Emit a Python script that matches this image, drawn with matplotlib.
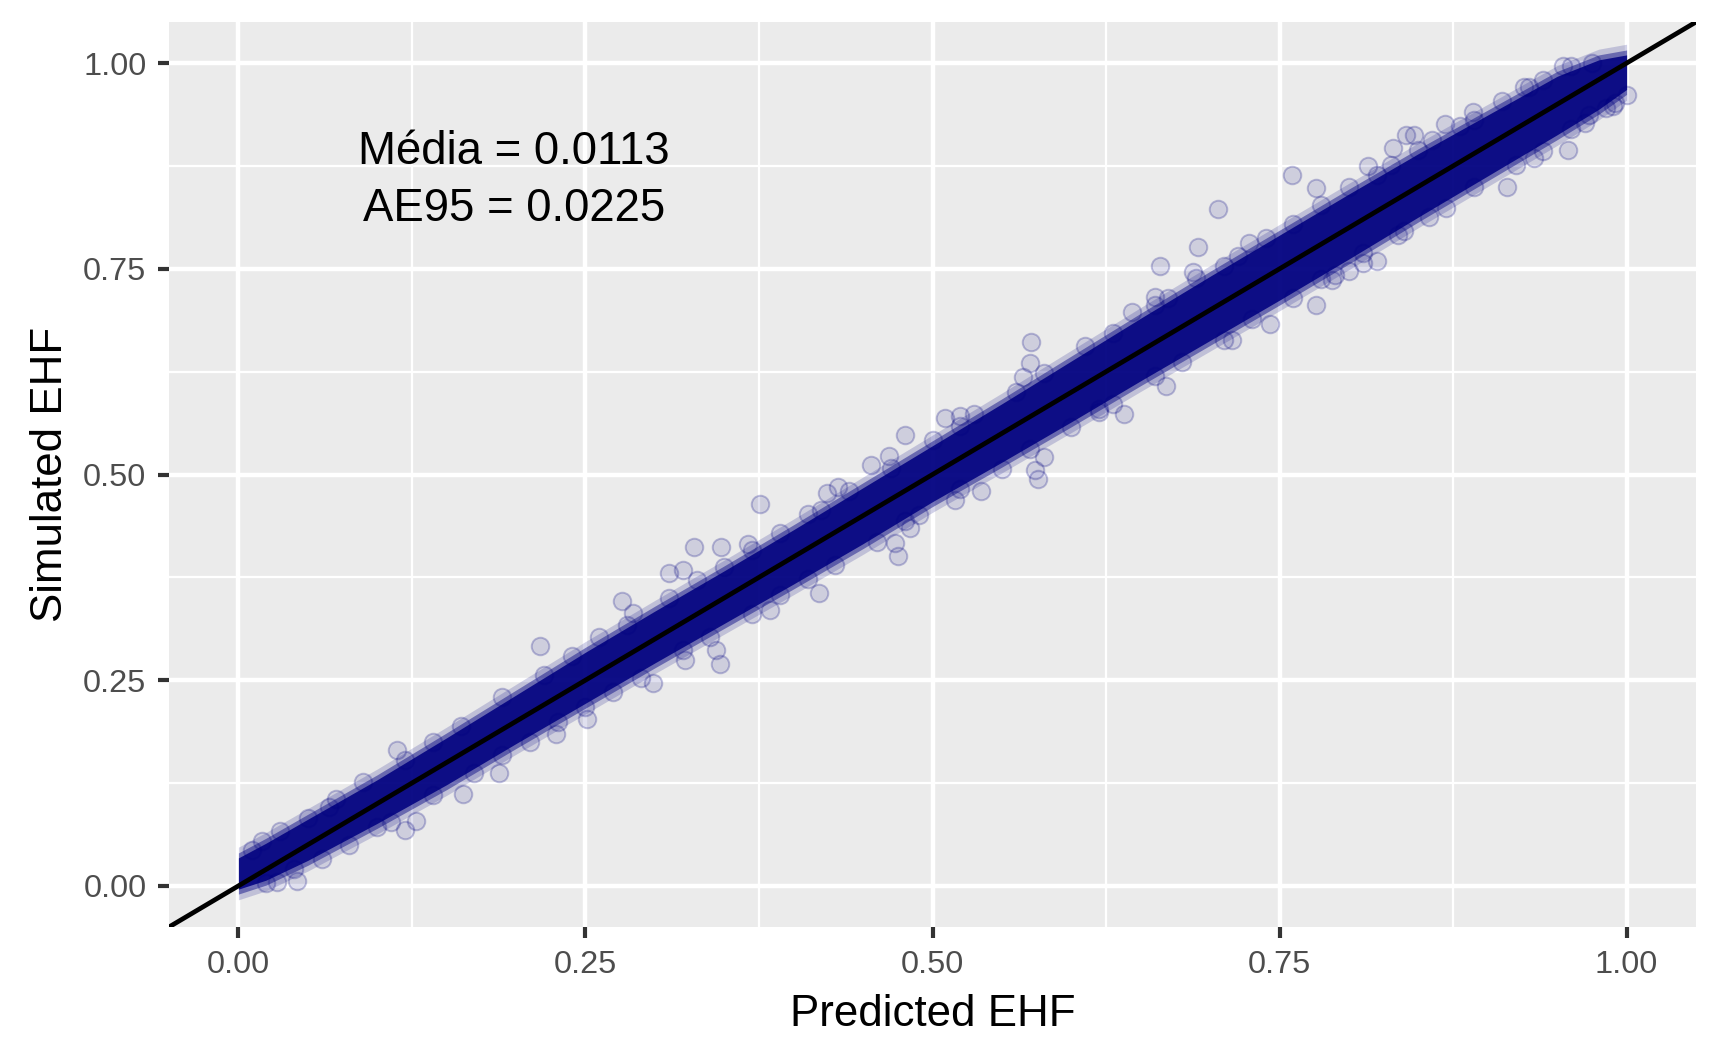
import numpy as np
import matplotlib
matplotlib.use("Agg")
import matplotlib.pyplot as plt
from matplotlib.ticker import FixedLocator

plt.rcParams['font.family'] = ['Liberation Sans', 'DejaVu Sans']

# ---------------- data ----------------
# dense core of the point cloud: predicted EHF positions and the
# visible upper / lower edge of the dense band (as offset from sim = pred)
env_pred = [0.00, 0.02, 0.05, 0.10, 0.15, 0.20, 0.25, 0.30, 0.35, 0.40, 0.45,
            0.50, 0.55, 0.60, 0.65, 0.70, 0.75, 0.80, 0.85, 0.90, 0.95, 0.98, 1.00]
env_upper_resid = [0.034, 0.032, 0.031, 0.029, 0.030, 0.032, 0.034, 0.034, 0.033, 0.033, 0.034,
                   0.035, 0.036, 0.038, 0.040, 0.041, 0.041, 0.041, 0.040, 0.037, 0.034, 0.024, 0.010]
env_lower_resid = [-0.004, -0.013, -0.019, -0.024, -0.027, -0.027, -0.028, -0.029, -0.031, -0.033, -0.034,
                   -0.033, -0.035, -0.036, -0.036, -0.037, -0.038, -0.038, -0.037, -0.037, -0.037, -0.036, -0.032]

# individual points on the fringe of the band
fringe_pred = [0.03, 0.07, 0.09, 0.14, 0.19, 0.24, 0.26, 0.31, 0.33, 0.39, 0.41, 0.44, 0.50, 0.53,
               0.58, 0.61, 0.66, 0.69, 0.72, 0.74, 0.78, 0.80, 0.83, 0.86, 0.88, 0.91, 0.93, 0.96,
               0.02, 0.06, 0.08, 0.11, 0.17, 0.21, 0.27, 0.29, 0.34, 0.37, 0.43, 0.46, 0.49, 0.55,
               0.60, 0.63, 0.68, 0.71, 0.76, 0.79, 0.84, 0.87, 0.92, 0.94, 0.97, 0.99,
               0.01, 0.05, 0.12, 0.16, 0.22, 0.28, 0.35, 0.37, 0.42, 0.47, 0.52, 0.56, 0.63, 0.67,
               0.71, 0.76, 0.82, 0.85, 0.89, 0.94, 0.975,
               0.04, 0.10, 0.14, 0.19, 0.23, 0.25, 0.32, 0.39, 0.41, 0.48, 0.52, 0.57, 0.62, 0.66,
               0.73, 0.78, 0.81, 0.89, 0.96, 0.985, 1.00]
fringe_sim = [0.067, 0.106, 0.126, 0.175, 0.229, 0.279, 0.303, 0.350, 0.372, 0.429, 0.452, 0.480, 0.542, 0.574,
              0.623, 0.656, 0.706, 0.739, 0.766, 0.788, 0.827, 0.850, 0.876, 0.907, 0.923, 0.954, 0.971, 0.996,
              0.003, 0.033, 0.050, 0.078, 0.137, 0.175, 0.236, 0.253, 0.302, 0.330, 0.390, 0.418, 0.451, 0.507,
              0.558, 0.586, 0.637, 0.664, 0.715, 0.743, 0.796, 0.824, 0.876, 0.893, 0.927, 0.948,
              0.044, 0.083, 0.153, 0.194, 0.256, 0.317, 0.387, 0.408, 0.457, 0.508, 0.559, 0.600, 0.672, 0.714,
              0.754, 0.805, 0.864, 0.894, 0.931, 0.979, 1.000,
              0.020, 0.072, 0.110, 0.159, 0.199, 0.217, 0.287, 0.354, 0.373, 0.443, 0.482, 0.531, 0.580, 0.620,
              0.689, 0.738, 0.769, 0.849, 0.920, 0.945, 0.961]

# clearly separated outlying points
out_pred = [0.017, 0.042, 0.028, 0.065, 0.114, 0.120, 0.128, 0.162, 0.188, 0.217, 0.229, 0.251,
            0.276, 0.284, 0.299, 0.322, 0.310, 0.320,
            0.328, 0.348, 0.367, 0.376, 0.347, 0.344, 0.418, 0.383, 0.424, 0.432, 0.456, 0.469,
            0.480, 0.473, 0.475, 0.484, 0.509, 0.520, 0.571, 0.570, 0.565, 0.574, 0.576, 0.580,
            0.516, 0.535,
            0.664, 0.691, 0.706, 0.759, 0.776, 0.814, 0.832, 0.644, 0.660, 0.688, 0.728, 0.638,
            0.668, 0.620, 0.716, 0.743, 0.776, 0.788, 0.820, 0.835, 0.858,
            0.841, 0.847, 0.869, 0.889, 0.926, 0.954, 0.992, 0.810, 0.800, 0.914, 0.933, 0.958, 0.973]
out_sim = [0.055, 0.006, 0.005, 0.096, 0.165, 0.068, 0.079, 0.112, 0.137, 0.291, 0.184, 0.203,
           0.346, 0.332, 0.246, 0.274, 0.380, 0.384,
           0.412, 0.412, 0.415, 0.464, 0.270, 0.287, 0.356, 0.335, 0.477, 0.485, 0.511, 0.522,
           0.548, 0.417, 0.401, 0.435, 0.569, 0.571, 0.661, 0.636, 0.618, 0.505, 0.494, 0.521,
           0.469, 0.480,
           0.754, 0.777, 0.823, 0.864, 0.848, 0.875, 0.897, 0.697, 0.716, 0.746, 0.781, 0.574,
           0.607, 0.576, 0.664, 0.683, 0.706, 0.737, 0.759, 0.791, 0.813,
           0.913, 0.913, 0.926, 0.941, 0.971, 0.996, 0.951, 0.757, 0.747, 0.849, 0.885, 0.895, 0.937]

tick_vals = [0.00, 0.25, 0.50, 0.75, 1.00]
tick_labels = ["0.00", "0.25", "0.50", "0.75", "1.00"]
minor_vals = [0.125, 0.375, 0.625, 0.875]
stat_lines = ["Média = 0.0113", "AE95 = 0.0225"]
x_title = "Predicted EHF"
y_title = "Simulated EHF"

assert len(out_pred) == len(out_sim)
assert len(fringe_pred) == len(fringe_sim)

# ---------------- figure ----------------
W, H = 1712, 1062
fig = plt.figure(figsize=(W / 200, H / 200), dpi=200)
ax = fig.add_axes([169 / W, 1 - 927 / H, (1696 - 169) / W, (927 - 22) / H])
ax.set_facecolor("#EBEBEB")
for s in ax.spines.values():
    s.set_visible(False)

ax.set_xlim(-0.05, 1.05)
ax.set_ylim(-0.05, 1.05)

ax.xaxis.set_major_locator(FixedLocator(tick_vals))
ax.yaxis.set_major_locator(FixedLocator(tick_vals))
ax.xaxis.set_minor_locator(FixedLocator(minor_vals))
ax.yaxis.set_minor_locator(FixedLocator(minor_vals))
ax.set_xticklabels(tick_labels)
ax.set_yticklabels(tick_labels)
ax.grid(which="major", color="white", linewidth=1.6)
ax.grid(which="minor", color="white", linewidth=0.8)
ax.set_axisbelow(True)
ax.tick_params(which="major", length=4.1, width=1.5, color="#333333",
               labelsize=11.7, labelcolor="#4D4D4D")
ax.tick_params(axis="x", which="major", pad=4.3)
ax.tick_params(axis="y", which="major", pad=4.0)
ax.tick_params(which="minor", length=0)

navy = "#000080"
ep = np.array(env_pred)
up = ep + np.array(env_upper_resid)
lo = ep + np.array(env_lower_resid)
# soft halo then dense core
ax.fill_between(ep, lo - 0.013, up + 0.013, color=navy, alpha=0.18, linewidth=0, zorder=2)
ax.fill_between(ep, lo - 0.006, up + 0.006, color=navy, alpha=0.45, linewidth=0, zorder=2)
ax.fill_between(ep, lo, up, color=navy, alpha=0.88, linewidth=0, zorder=2)

pt_kw = dict(s=40, facecolors=(0, 0, 0.5, 0.12), edgecolors=(0, 0, 0.5, 0.24),
             linewidths=0.7, zorder=3)
ax.scatter(fringe_pred, fringe_sim, **pt_kw)
ax.scatter(out_pred, out_sim, **pt_kw)

ax.axline((0, 0), slope=1, color="black", linewidth=1.7, zorder=4)

ax.text(0.1985, 0.878, stat_lines[0], ha="center", va="baseline", fontsize=16.4, color="black")
ax.text(0.1985, 0.808, stat_lines[1], ha="center", va="baseline", fontsize=16.4, color="black")

ax.set_xlabel(x_title, fontsize=15.8, labelpad=5, color="black")
ax.set_ylabel(y_title, fontsize=15.8, labelpad=4.3, color="black")

fig.savefig("out.png", dpi=200, facecolor="white")
